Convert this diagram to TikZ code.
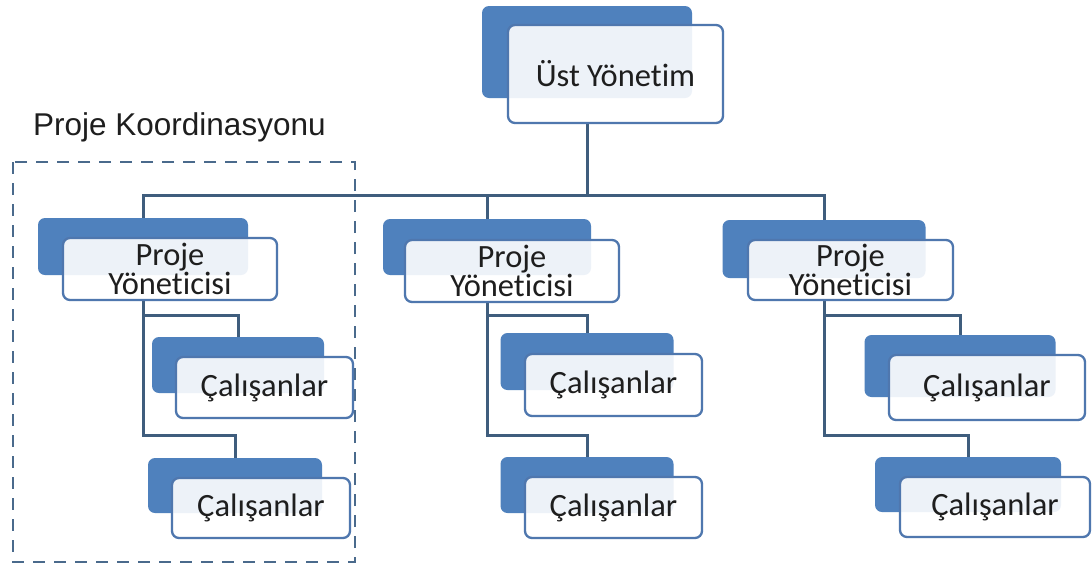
\documentclass[tikz,border=0pt]{standalone}
\usepackage{fontspec}
\setmainfont{Carlito}[Ligatures=NoCommon]
\newfontfamily\arialf{Liberation Sans}
\definecolor{backblue}{HTML}{4F81BD}
\definecolor{frontline}{HTML}{4F77AE}
\definecolor{connline}{HTML}{3F5D7D}
\definecolor{dashcol}{HTML}{4A6A8C}
\definecolor{txt}{HTML}{1E1E1E}
\pgfdeclarelayer{paper}
\pgfdeclarelayer{bg}
\pgfsetlayers{paper,bg,main}
\tikzset{
  backbox/.style={fill=backblue,draw=none,rounded corners=7pt,inner sep=0pt},
  frontbox/.style={fill=white,fill opacity=0.9,text opacity=1,draw=frontline,draw opacity=1,line width=2.3pt,rounded corners=7pt,inner sep=0pt,align=center,text=txt,font=\fontsize{32.5}{29.5}\selectfont},
  conn/.style={draw=connline,line width=3pt},
  coord/.style={draw=dashcol,line width=2.5pt,dash pattern=on 12pt off 9pt}
}
\newcommand\pairbox[8]{%
  \node[backbox,minimum width=#3pt,minimum height=#4pt] (#1B) at (#2) {};
  \node[frontbox,minimum width=#6pt,minimum height=#7pt] (#1) at (#5) {#8};}
\begin{document}
\begin{tikzpicture}[x=1pt,y=-1pt]
\begin{pgfonlayer}{paper}
\fill[white] (0,0) rectangle (1092,571);
\end{pgfonlayer}
\useasboundingbox (0,0) rectangle (1092,571);
% dashed coordination frame
\draw[coord] (13,162) rectangle (355,562);
\node[anchor=base west,inner sep=0pt,text=txt,font=\arialf\fontsize{31.5}{36}\selectfont] (title) at (33,135) {Proje Koordinasyonu};
\coordinate (hy) at (0,195);
\coordinate (b1y) at (0,315);
\coordinate (b2y) at (0,435);
\pairbox{top}{587,52}{210}{92}{615.5,74}{215}{98}{Üst Yönetim}
\pairbox{pa}{143,246.5}{210}{57}{170,269}{214}{62}{Proje\\Yöneticisi}
\pairbox{pb}{487,247}{208}{56}{512,271}{214}{62}{Proje\\Yöneticisi}
\pairbox{pc}{824,249}{203}{58}{850.5,270}{205}{60}{Proje\\Yöneticisi}
\pairbox{la}{238,365}{172}{56}{264.5,387.5}{177}{61}{Çalışanlar}
\pairbox{lb}{235,485.5}{174}{55}{261,508}{178}{60}{Çalışanlar}
\pairbox{ma}{587,361.5}{173}{57}{613.5,385}{177}{62}{Çalışanlar}
\pairbox{mb}{587,485}{173}{56}{613.5,507.5}{177}{61}{Çalışanlar}
\pairbox{ra}{960,366}{191}{62}{987,387.5}{196}{65}{Çalışanlar}
\pairbox{rb}{968,484.5}{186}{55}{995,507}{190}{60}{Çalışanlar}
\begin{pgfonlayer}{bg}
\draw[conn] (topB.center |- top.south) -- (topB.center |- hy);
\draw[conn] (paB.north) -- (paB.north |- hy) -- (pcB.north |- hy) -- (pcB.north);
\draw[conn] (pbB.north) -- (pbB.north |- hy);
\draw[conn] (paB.center |- pa.south) -- (paB.center |- b2y) -| (lbB.north);
\draw[conn] (paB.center |- b1y) -| (laB.north);
\draw[conn] (pbB.center |- pb.south) -- (pbB.center |- b2y) -| (mbB.north);
\draw[conn] (pbB.center |- b1y) -| (maB.north);
\draw[conn] (pcB.center |- pc.south) -- (pcB.center |- b2y) -| (rbB.north);
\draw[conn] (pcB.center |- b1y) -| (raB.north);
\end{pgfonlayer}
\end{tikzpicture}
\end{document}
